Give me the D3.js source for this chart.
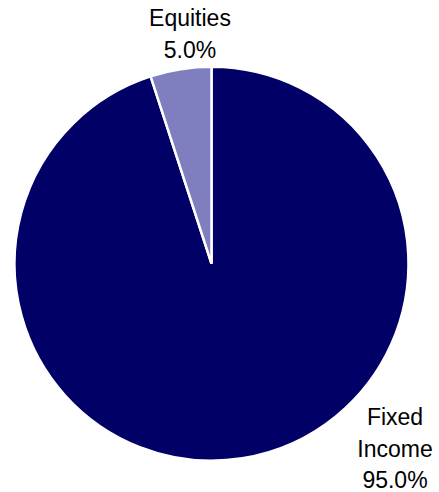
<!DOCTYPE html>
<html>
<head>
<meta charset="utf-8">
<script src="https://cdn.jsdelivr.net/npm/d3@7"></script>
<style>
  html, body { margin: 0; padding: 0; background: #fff; }
  svg { display: block; }
  text { font-family: "Liberation Sans", Arial, sans-serif; fill: #000; }
</style>
</head>
<body>
<svg id="chart" width="439" height="492"></svg>
<script>
// Asset allocation split
const categories = ["Fixed Income", "Equities"];
const values = [95.0, 5.0];
const colors = ["#000066", "#7f7fbf"];
// Label lines drawn next to each slice
const labelLines = [["Fixed", "Income", "95.0%"], ["Equities", "5.0%"]];

const width = 439, height = 492;
const cx = 211.5, cy = 263.7, radius = 197;

const svg = d3.select("#chart");

const data = categories.map((c, i) => ({ name: c, value: values[i], color: colors[i], lines: labelLines[i] }));

const pie = d3.pie().value(d => d.value).sort(null);
const arc = d3.arc().innerRadius(0).outerRadius(radius);
const arcs = pie(data);

const g = svg.append("g").attr("transform", `translate(${cx},${cy})`);

g.selectAll("path")
  .data(arcs)
  .join("path")
  .attr("d", arc)
  .attr("fill", d => d.data.color)
  .attr("stroke", "#fff")
  .attr("stroke-width", 2.5)
  .attr("stroke-linejoin", "miter");

// Label anchors (outside the pie), one per category
const labelPos = {
  "Fixed Income": { x: 395, y: 425 },
  "Equities": { x: 190, y: 26 }
};
const lineGap = 31.5;

const labels = svg.append("g");
data.forEach(d => {
  const p = labelPos[d.name];
  const t = labels.append("text")
    .attr("text-anchor", "middle")
    .attr("font-size", 23)
    .attr("x", p.x)
    .attr("y", p.y);
  d.lines.forEach((line, i) => {
    t.append("tspan")
      .attr("x", p.x)
      .attr("dy", i === 0 ? 0 : lineGap)
      .text(line);
  });
});
</script>
</body>
</html>
